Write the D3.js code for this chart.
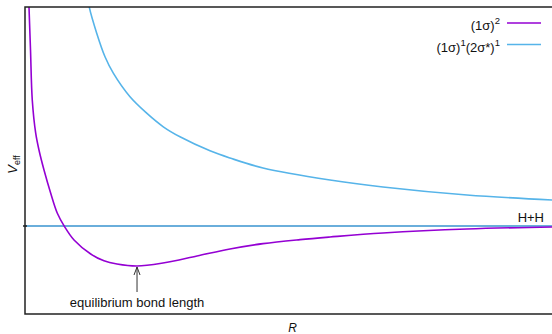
<!DOCTYPE html>
<html>
<head>
<meta charset="utf-8">
<script src="https://cdn.jsdelivr.net/npm/d3@7"></script>
<style>
  html, body { margin: 0; padding: 0; background: #fff; }
  svg { display: block; font-family: "Liberation Sans", Arial, sans-serif; }
</style>
</head>
<body>
<div id="chart"></div>
<script>
// internuclear distance (arbitrary units)
const rValuesGround = [0.041, 0.05, 0.069, 0.091, 0.134, 0.175, 0.238, 0.322, 0.405, 0.497, 0.614, 0.823, 0.989, 1.152, 1.403, 1.728, 2.154, 2.567, 2.981, 3.444, 3.82, 4.483, 5.535, 6.6];
// effective potential for (1σ)^2
const vGround = [6.15, 5.475, 4.4, 3.15, 2.32, 1.9, 1.4, 0.82, 0.32, -0.02, -0.35, -0.7, -0.87, -0.95, -1.0, -0.925, -0.75, -0.575, -0.44, -0.34, -0.275, -0.175, -0.075, -0.025];

const rValuesExcited = [0.783, 0.805, 0.898, 1.002, 1.106, 1.315, 1.524, 1.732, 1.941, 2.317, 2.567, 2.981, 3.82, 4.483, 5.535, 6.6];
// effective potential for (1σ)^1(2σ*)^1
const vExcited = [5.78, 5.47, 4.82, 4.23, 3.82, 3.23, 2.82, 2.48, 2.23, 1.88, 1.7, 1.45, 1.15, 0.975, 0.775, 0.65];

const equilibriumR = 1.403;
const equilibriumV = -1.0;
const dissociationV = 0;

const width = 552, height = 334;
const margin = { left: 25, right: 0, top: 7, bottom: 20 };

const svg = d3.select("#chart").append("svg")
    .attr("width", width)
    .attr("height", height);

const x = d3.scaleLinear().domain([0, 6.6]).range([margin.left, width - margin.right]);
const y = d3.scaleLinear().domain([-2.2, 5.475]).range([height - margin.bottom, margin.top]);

svg.append("defs").append("clipPath").attr("id", "plot")
  .append("rect")
    .attr("x", x(0)).attr("y", y(5.475))
    .attr("width", x(6.6) - x(0)).attr("height", y(-2.2) - y(5.475));

const line = d3.line()
    .x(d => x(d[0]))
    .y(d => y(d[1]))
    .curve(d3.curveCatmullRom.alpha(0.5));

const plot = svg.append("g").attr("clip-path", "url(#plot)");

// H+H asymptote
plot.append("line")
    .attr("x1", x(0)).attr("x2", x(6.6))
    .attr("y1", y(dissociationV)).attr("y2", y(dissociationV))
    .attr("stroke", "#6aaedb")
    .attr("stroke-width", 2);

plot.append("path")
    .datum(d3.zip(rValuesExcited, vExcited))
    .attr("d", line)
    .attr("fill", "none")
    .attr("stroke", "#56b4e9")
    .attr("stroke-width", 1.6);

plot.append("path")
    .datum(d3.zip(rValuesGround, vGround))
    .attr("d", line)
    .attr("fill", "none")
    .attr("stroke", "#9400d3")
    .attr("stroke-width", 1.6);

// frame: left, top, bottom
const frame = svg.append("g").attr("stroke", "#222").attr("stroke-width", 1.5).attr("fill", "none");
frame.append("path")
    .attr("d", `M${width},${y(5.475)}H${x(0)}V${y(-2.2)}H${width}`);
frame.append("line")
    .attr("x1", x(0) - 2).attr("x2", x(0) + 2)
    .attr("y1", y(0)).attr("y2", y(0));

// axis labels
const yl = svg.append("text")
    .attr("transform", `translate(17,${(y(5.475) + y(-2.2)) / 2 + 4}) rotate(-90)`)
    .attr("text-anchor", "middle")
    .attr("font-size", 13)
    .attr("fill", "#111");
yl.append("tspan").attr("font-style", "italic").text("V");
yl.append("tspan").attr("font-size", 9).attr("dy", 3).text("eff");

svg.append("text")
    .attr("x", (x(0) + x(6.6)) / 2 + 4)
    .attr("y", 332)
    .attr("text-anchor", "middle")
    .attr("font-style", "italic")
    .attr("font-size", 12)
    .attr("fill", "#111")
    .text("R");

// annotation: equilibrium bond length
svg.append("line")
    .attr("x1", x(equilibriumR)).attr("x2", x(equilibriumR))
    .attr("y1", y(equilibriumV) + 26).attr("y2", y(equilibriumV) + 1)
    .attr("stroke", "#333").attr("stroke-width", 1);
svg.append("path")
    .attr("d", `M${x(equilibriumR) - 3},${y(equilibriumV) + 9}L${x(equilibriumR)},${y(equilibriumV) + 1}L${x(equilibriumR) + 3},${y(equilibriumV) + 9}`)
    .attr("fill", "none").attr("stroke", "#333").attr("stroke-width", 1);
svg.append("text")
    .attr("x", x(equilibriumR))
    .attr("y", 307)
    .attr("text-anchor", "middle")
    .attr("font-size", 13)
    .attr("fill", "#111")
    .text("equilibrium bond length");

svg.append("text")
    .attr("x", 544)
    .attr("y", y(dissociationV) - 4)
    .attr("text-anchor", "end")
    .attr("font-size", 13)
    .attr("fill", "#111")
    .text("H+H");

// legend
const legendItems = [
  { color: "#9400d3", parts: [["(1σ)", 0], ["2", -6]] },
  { color: "#56b4e9", parts: [["(1σ)", 0], ["1", -6], ["(2σ*)", 6], ["1", -6]] }
];
legendItems.forEach((item, i) => {
  const ly = 23 + i * 21.5;
  const t = svg.append("text")
      .attr("x", 500).attr("y", ly + 7)
      .attr("text-anchor", "end")
      .attr("font-size", 13)
      .attr("fill", "#111");
  item.parts.forEach(([s, dy]) => {
    t.append("tspan")
      .attr("font-size", dy < 0 ? 9.5 : 13)
      .attr("dy", dy)
      .text(s);
  });
  svg.append("line")
      .attr("x1", 507).attr("x2", 541)
      .attr("y1", ly).attr("y2", ly)
      .attr("stroke", item.color).attr("stroke-width", 1.6);
});
</script>
</body>
</html>
